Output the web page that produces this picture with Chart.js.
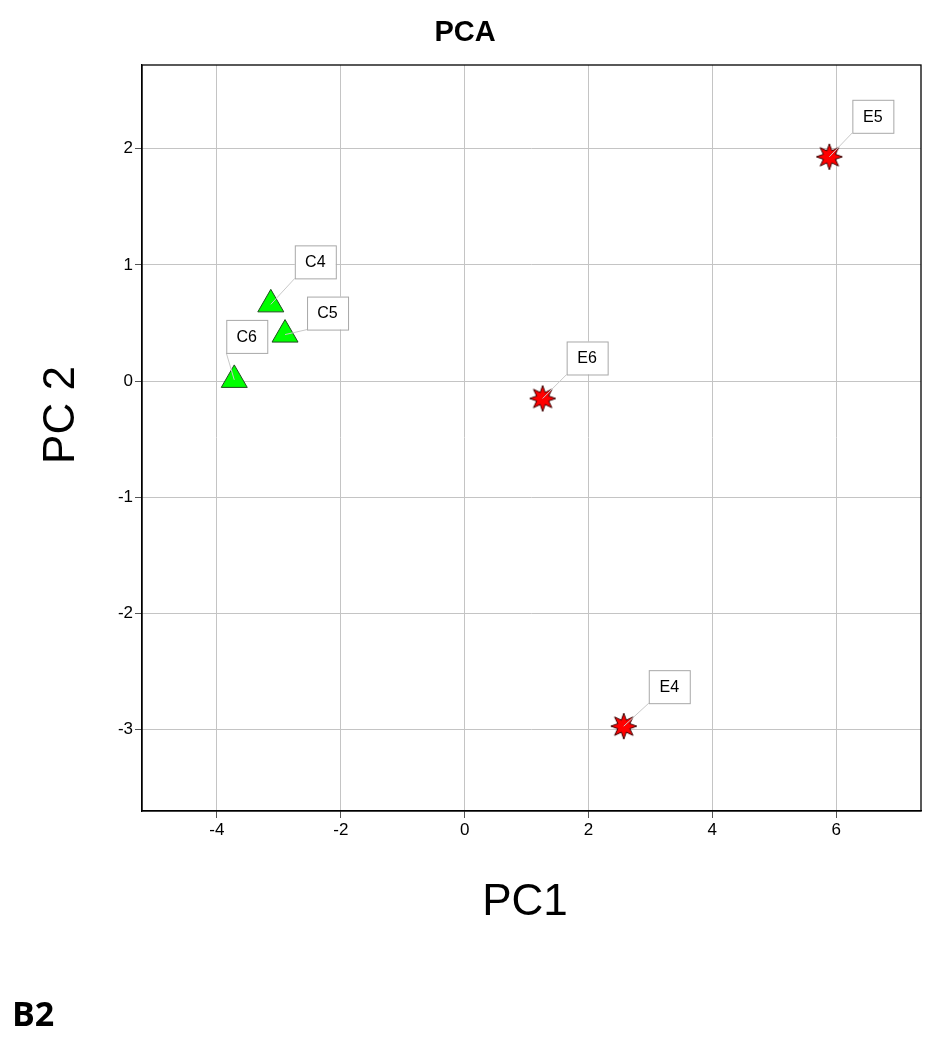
<!DOCTYPE html>
<html>
<head>
<meta charset="utf-8">
<script src="https://cdn.jsdelivr.net/npm/chart.js@4.4.0/dist/chart.umd.min.js"></script>
<style>
  html, body { margin: 0; padding: 0; background: #fff; }
  #wrap { width: 937px; height: 1050px; position: relative; }
</style>
</head>
<body>
<div id="wrap"><canvas id="pca" width="937" height="1050"></canvas></div>
<script>
// sample scores
const cNames = ["C4", "C5", "C6"];
const cPC1 = [-3.13, -2.90, -3.72];
const cPC2 = [0.66, 0.40, 0.01];

const eNames = ["E4", "E5", "E6"];
const ePC1 = [2.57, 5.89, 1.26];
const ePC2 = [-2.97, 1.93, -0.15];

const xTicks = [-4, -2, 0, 2, 4, 6];
const yTicks = [-3, -2, -1, 0, 1, 2];

// where each label box sits relative to its point (bottom-left corner offset, px)
const labelOffset = {
  C4: [24, -26], C5: [22, -5], C6: [-8, -27],
  E4: [25, -23], E5: [23, -24], E6: [24, -24]
};

const FONT = "'Liberation Sans', Arial, sans-serif";

// 8-pointed red star marker
function makeStar() {
  const c = document.createElement("canvas");
  c.width = 30; c.height = 30;
  const g = c.getContext("2d");
  const R = 13, r = 6.5;
  g.beginPath();
  for (let i = 0; i < 16; i++) {
    const a = -Math.PI / 2 + i * Math.PI / 8;
    const rad = i % 2 === 0 ? R : r;
    const px = 15 + rad * Math.cos(a), py = 15 + rad * Math.sin(a);
    i === 0 ? g.moveTo(px, py) : g.lineTo(px, py);
  }
  g.closePath();
  g.fillStyle = "#ff0000";
  g.fill();
  g.lineWidth = 1;
  g.strokeStyle = "#3a0000";
  g.stroke();
  return c;
}
const star = makeStar();

const toPts = (xs, ys, names) => xs.map((x, i) => ({ x: x, y: ys[i], name: names[i] }));

const decor = {
  id: "decor",
  afterDatasetsDraw(chart) {
    const { ctx, chartArea: a } = chart;
    ctx.save();
    ctx.strokeStyle = "#000";
    ctx.lineWidth = 1.3;
    ctx.strokeRect(a.left, a.top, a.right - a.left, a.bottom - a.top);

    // label boxes with leader lines
    ctx.font = "16px " + FONT;
    chart.data.datasets.forEach((ds, di) => {
      const meta = chart.getDatasetMeta(di);
      ds.data.forEach((p, i) => {
        const el = meta.data[i];
        const off = labelOffset[p.name];
        const bx = el.x + off[0], by = el.y + off[1];
        const w = 41, h = 33;
        ctx.strokeStyle = "#c8c8c8";
        ctx.lineWidth = 1;
        ctx.beginPath();
        ctx.moveTo(el.x, el.y);
        ctx.lineTo(bx, by);
        ctx.stroke();
        ctx.fillStyle = "#fff";
        ctx.fillRect(bx, by - h, w, h);
        ctx.strokeStyle = "#a8a8a8";
        ctx.strokeRect(bx + 0.5, by - h + 0.5, w, h);
        ctx.fillStyle = "#000";
        ctx.textAlign = "center";
        ctx.textBaseline = "middle";
        ctx.fillText(p.name, bx + w / 2, by - h / 2 + 1);
      });
    });

    // titles
    ctx.fillStyle = "#000";
    ctx.textAlign = "center";
    ctx.textBaseline = "middle";
    ctx.font = "bold 29px " + FONT;
    ctx.fillText("PCA", 465, 33);
    ctx.font = "44px " + FONT;
    ctx.fillText("PC1", 525, 903);
    ctx.save();
    ctx.translate(62, 415);
    ctx.rotate(-Math.PI / 2);
    ctx.fillText("PC 2", 0, 0);
    ctx.restore();
    ctx.textAlign = "left";
    ctx.font = "bold 34px 'Open Sans', sans-serif";
    ctx.fillText("B2", 12, 1016);
    ctx.restore();
  }
};

new Chart(document.getElementById("pca"), {
  type: "scatter",
  data: {
    datasets: [
      {
        label: "C",
        data: toPts(cPC1, cPC2, cNames),
        pointStyle: "triangle",
        pointRadius: 15,
        pointHoverRadius: 15,
        backgroundColor: "#00ff00",
        borderColor: "#1f4d1f",
        borderWidth: 1
      },
      {
        label: "E",
        data: toPts(ePC1, ePC2, eNames),
        pointStyle: star,
        pointRadius: 13,
        pointHoverRadius: 13
      }
    ]
  },
  options: {
    responsive: false,
    animation: false,
    devicePixelRatio: 1,
    layout: { padding: { left: 0, top: 65, right: 16, bottom: 0 } },
    plugins: { legend: { display: false }, tooltip: { enabled: false } },
    scales: {
      x: {
        type: "linear",
        min: -5.21,
        max: 7.37,
        afterBuildTicks: s => { s.ticks = xTicks.map(v => ({ value: v })); },
        afterFit: s => { s.height = 239; },
        grid: { color: "#c4c4c4", tickColor: "#555", tickLength: 7, lineWidth: 1 },
        border: { color: "#000", width: 1.3 },
        ticks: { color: "#000", font: { family: FONT, size: 17 }, padding: 2 }
      },
      y: {
        type: "linear",
        min: -3.70,
        max: 2.72,
        afterBuildTicks: s => { s.ticks = yTicks.map(v => ({ value: v })); },
        afterFit: s => { s.width = 142; },
        grid: { color: "#c4c4c4", tickColor: "#555", tickLength: 7, lineWidth: 1 },
        border: { color: "#000", width: 1.3 },
        ticks: { color: "#000", font: { family: FONT, size: 17 }, padding: 2 }
      }
    }
  },
  plugins: [decor]
});
</script>
</body>
</html>
